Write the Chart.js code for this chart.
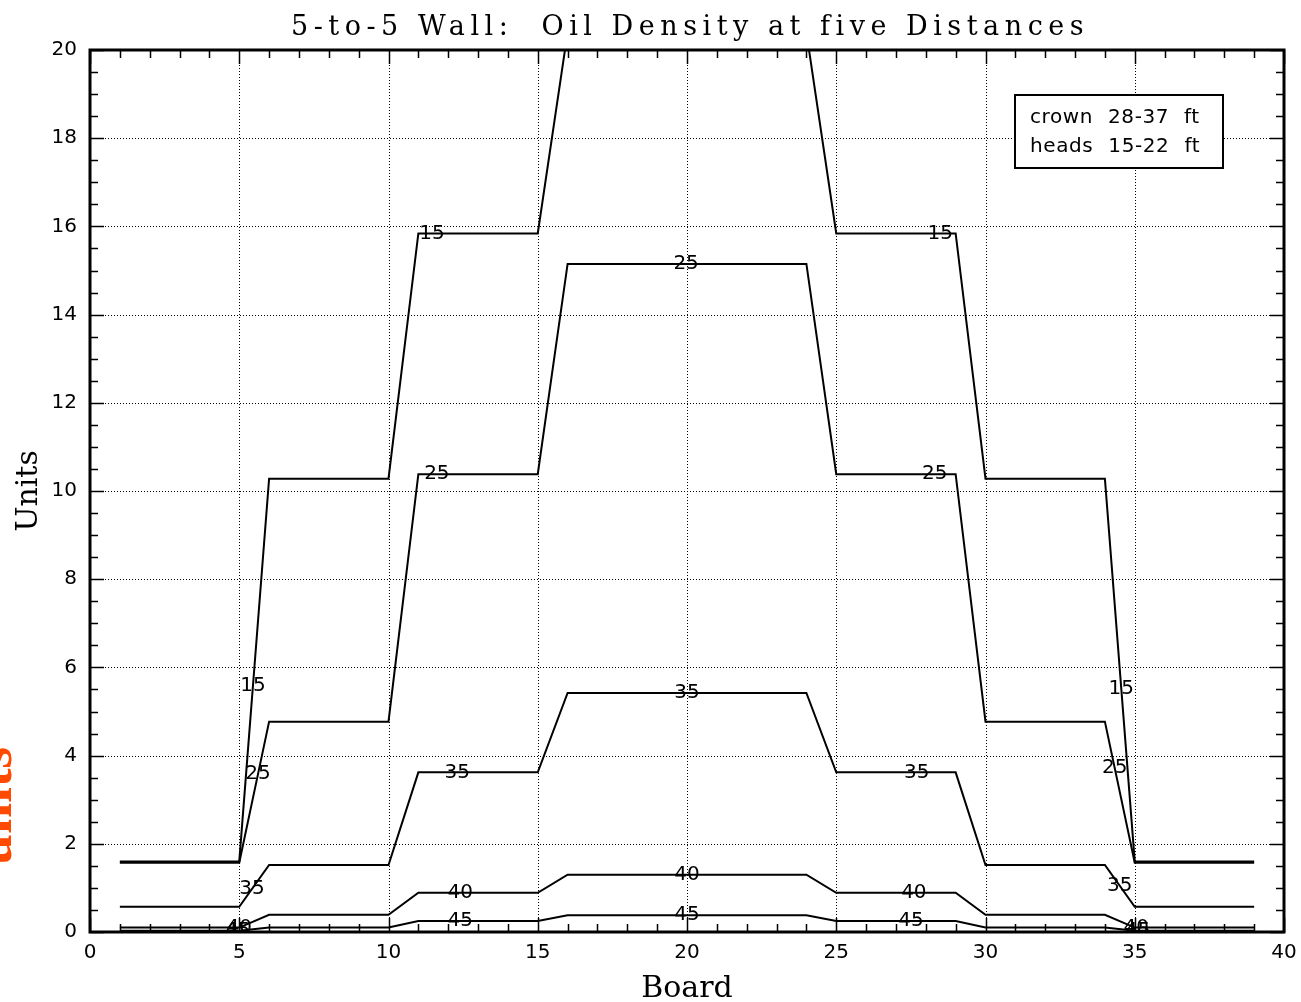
<!DOCTYPE html>
<html><head><meta charset="utf-8">
<script src="https://cdn.jsdelivr.net/npm/chart.js@4.4.1/dist/chart.umd.min.js"></script>
<style>html,body{margin:0;padding:0;background:#fff;overflow:hidden;} canvas{display:block;}</style>
</head><body>
<canvas id="c" width="1301" height="1002"></canvas>
<script>
// ---- data ----
const boards = [1, 5, 6, 10, 11, 15, 16, 24, 25, 29, 30, 34, 35, 39];
const distances = ['15', '25', '35', '40', '45'];
const dist15 = [1.6, 1.6, 10.28, 10.28, 15.84, 15.84, 20.4, 20.4, 15.84, 15.84, 10.28, 10.28, 1.6, 1.6];
const dist25 = [1.57, 1.57, 4.77, 4.77, 10.38, 10.38, 15.15, 15.15, 10.38, 10.38, 4.77, 4.77, 1.57, 1.57];
const dist35 = [0.57, 0.57, 1.52, 1.52, 3.62, 3.62, 5.42, 5.42, 3.62, 3.62, 1.52, 1.52, 0.57, 0.57];
const dist40 = [0.1, 0.1, 0.39, 0.39, 0.89, 0.89, 1.30, 1.30, 0.89, 0.89, 0.39, 0.39, 0.1, 0.1];
const dist45 = [0.03, 0.03, 0.1, 0.1, 0.25, 0.25, 0.38, 0.38, 0.25, 0.25, 0.1, 0.1, 0.03, 0.03];
const labelX15 = [5.46, 11.46, 28.48, 34.55];
const labelX25 = [5.63, 11.62, 19.97, 28.3, 34.33];
const labelX35 = [5.43, 12.3, 20.0, 27.7, 34.5];
const labelX40 = [5.0, 12.4, 20.0, 27.6, 35.05];
const labelX45 = [4.95, 12.4, 20.0, 27.5, 35.1];
const xMajorTicks = [0, 5, 10, 15, 20, 25, 30, 35, 40];
const yMajorTicks = [0, 2, 4, 6, 8, 10, 12, 14, 16, 18, 20];
const xMinorTicks = [1,2,3,4,6,7,8,9,11,12,13,14,16,17,18,19,21,22,23,24,26,27,28,29,31,32,33,34,36,37,38,39];
const yMinorTicks = [0.5,1,1.5,2.5,3,3.5,4.5,5,5.5,6.5,7,7.5,8.5,9,9.5,10.5,11,11.5,12.5,13,13.5,14.5,15,15.5,16.5,17,17.5,18.5,19,19.5];
const chartTitle = '5-to-5 Wall:  Oil Density at five Distances';
const xTitle = 'Board';
const yTitle = 'Units';
const sideNote = 'units';
const legendLines = ['crown 28-37 ft', 'heads 15-22 ft'];

const seriesValues = [dist15, dist25, dist35, dist40, dist45];
const seriesLabelX = [labelX15, labelX25, labelX35, labelX40, labelX45];

function interp(xs, ys, x) {
  for (let i = 0; i < xs.length - 1; i++) {
    if (x >= xs[i] && x <= xs[i + 1]) {
      const t = (x - xs[i]) / (xs[i + 1] - xs[i]);
      return ys[i] + t * (ys[i + 1] - ys[i]);
    }
  }
  return ys[ys.length - 1];
}

const datasets = distances.map((d, i) => ({
  label: d,
  data: boards.map((b, j) => ({ x: b, y: seriesValues[i][j] })),
  borderColor: '#000',
  borderWidth: 2,
  pointRadius: 0,
  tension: 0,
  fill: false
}));

function spacedText(ctx, text, x, y, targetWidth) {
  ctx.letterSpacing = '0px';
  const w = ctx.measureText(text).width;
  const ls = (targetWidth - w) / (text.length - 1);
  ctx.letterSpacing = ls + 'px';
  ctx.textAlign = 'left';
  ctx.fillText(text, x - targetWidth / 2, y);
  ctx.letterSpacing = '0px';
}

const decor = {
  id: 'decor',
  beforeDatasetsDraw(chart) {
    const { ctx, chartArea: a, scales: { x, y } } = chart;
    ctx.save();
    ctx.strokeStyle = '#000';
    ctx.lineWidth = 1;
    ctx.setLineDash([1, 2]);
    xMajorTicks.forEach(v => {
      if (v === x.min || v === x.max) return;
      const px = Math.round(x.getPixelForValue(v)) + 0.5;
      ctx.beginPath(); ctx.moveTo(px, a.top); ctx.lineTo(px, a.bottom); ctx.stroke();
    });
    yMajorTicks.forEach(v => {
      if (v === y.min || v === y.max) return;
      const py = Math.round(y.getPixelForValue(v)) + 0.5;
      ctx.beginPath(); ctx.moveTo(a.left, py); ctx.lineTo(a.right, py); ctx.stroke();
    });
    ctx.restore();
  },
  afterDatasetsDraw(chart) {
    const { ctx, chartArea: a, scales: { x, y } } = chart;
    ctx.save();
    // line labels
    ctx.beginPath(); ctx.rect(a.left, a.top, a.right - a.left, a.bottom - a.top); ctx.clip();
    ctx.fillStyle = '#000';
    ctx.font = '20px "DejaVu Sans"';
    ctx.textAlign = 'center';
    ctx.textBaseline = 'middle';
    distances.forEach((d, i) => {
      seriesLabelX[i].forEach(lx => {
        const ly = interp(boards, seriesValues[i], lx);
        ctx.fillText(d, x.getPixelForValue(lx), y.getPixelForValue(ly));
      });
    });
    ctx.restore();
    ctx.save();
    // ticks inward
    ctx.strokeStyle = '#000';
    ctx.lineWidth = 1.5;
    const tick = (len, vals, axis) => {
      vals.forEach(v => {
        if (axis === 'x') {
          const px = Math.round(x.getPixelForValue(v)) + 0.5;
          ctx.beginPath();
          ctx.moveTo(px, a.bottom); ctx.lineTo(px, a.bottom - len);
          ctx.moveTo(px, a.top); ctx.lineTo(px, a.top + len);
          ctx.stroke();
        } else {
          const py = Math.round(y.getPixelForValue(v)) + 0.5;
          ctx.beginPath();
          ctx.moveTo(a.left, py); ctx.lineTo(a.left + len, py);
          ctx.moveTo(a.right, py); ctx.lineTo(a.right - len, py);
          ctx.stroke();
        }
      });
    };
    tick(14, xMajorTicks, 'x');
    tick(8, xMinorTicks, 'x');
    tick(14, yMajorTicks, 'y');
    tick(8, yMinorTicks, 'y');
    // frame
    ctx.lineWidth = 3;
    ctx.strokeRect(a.left, a.top, a.right - a.left, a.bottom - a.top);
    // legend box
    const bw = 208, bh = 73;
    const bx = a.right - 61 - bw, by = a.top + 45;
    ctx.fillStyle = '#fff';
    ctx.fillRect(bx, by, bw, bh);
    ctx.lineWidth = 2;
    ctx.strokeRect(bx, by, bw, bh);
    ctx.fillStyle = '#000';
    ctx.font = '20px "DejaVu Sans"';
    ctx.textBaseline = 'middle';
    ctx.textAlign = 'left';
    ctx.letterSpacing = '0.6px';
    ctx.wordSpacing = '8px';
    ctx.fillText(legendLines[0], bx + 15, by + 23);
    ctx.fillText(legendLines[1], bx + 15, by + 52);
    ctx.letterSpacing = '0px';
    ctx.wordSpacing = '0px';
    ctx.restore();
  },
  afterDraw(chart) {
    const { ctx, chartArea: a } = chart;
    ctx.save();
    ctx.fillStyle = '#000';
    ctx.textBaseline = 'alphabetic';
    ctx.font = '27px "DejaVu Serif"';
    spacedText(ctx, chartTitle, (a.left + a.right) / 2, 35, 792);
    ctx.font = '30px "DejaVu Serif"';
    ctx.textAlign = 'center';
    ctx.fillText(xTitle, (a.left + a.right) / 2, 997);
    ctx.save();
    ctx.translate(37, (a.top + a.bottom) / 2);
    ctx.rotate(-Math.PI / 2);
    ctx.fillText(yTitle, 0, 0);
    ctx.restore();
    ctx.save();
    ctx.fillStyle = '#ff4a00';
    ctx.font = 'bold 56px "Liberation Serif"';
    ctx.translate(11, 806);
    ctx.rotate(-Math.PI / 2);
    ctx.textAlign = 'center';
    ctx.fillText(sideNote, 0, 0);
    ctx.restore();
    ctx.restore();
  }
};

new Chart(document.getElementById('c'), {
  type: 'line',
  data: { datasets },
  options: {
    responsive: false,
    animation: false,
    devicePixelRatio: 1,
    layout: { padding: { left: 0, top: 50, right: 17, bottom: 0 } },
    plugins: { legend: { display: false }, title: { display: false }, tooltip: { enabled: false } },
    scales: {
      x: {
        type: 'linear', min: 0, max: 40,
        afterBuildTicks: s => { s.ticks = xMajorTicks.map(v => ({ value: v })); },
        afterFit: s => { s.height = 70; s.paddingLeft = 0; s.paddingRight = 0; },
        grid: { display: false, drawTicks: false },
        border: { display: false },
        ticks: { color: '#000', padding: 9, maxRotation: 0, font: { family: 'DejaVu Sans', size: 20 } }
      },
      y: {
        type: 'linear', min: 0, max: 20,
        afterBuildTicks: s => { s.ticks = yMajorTicks.map(v => ({ value: v })); },
        afterFit: s => { s.width = 90; s.paddingTop = 0; s.paddingBottom = 0; },
        grid: { display: false, drawTicks: false },
        border: { display: false },
        ticks: { color: '#000', padding: 13, font: { family: 'DejaVu Sans', size: 20 } }
      }
    }
  },
  plugins: [decor]
});
</script>
</body></html>
